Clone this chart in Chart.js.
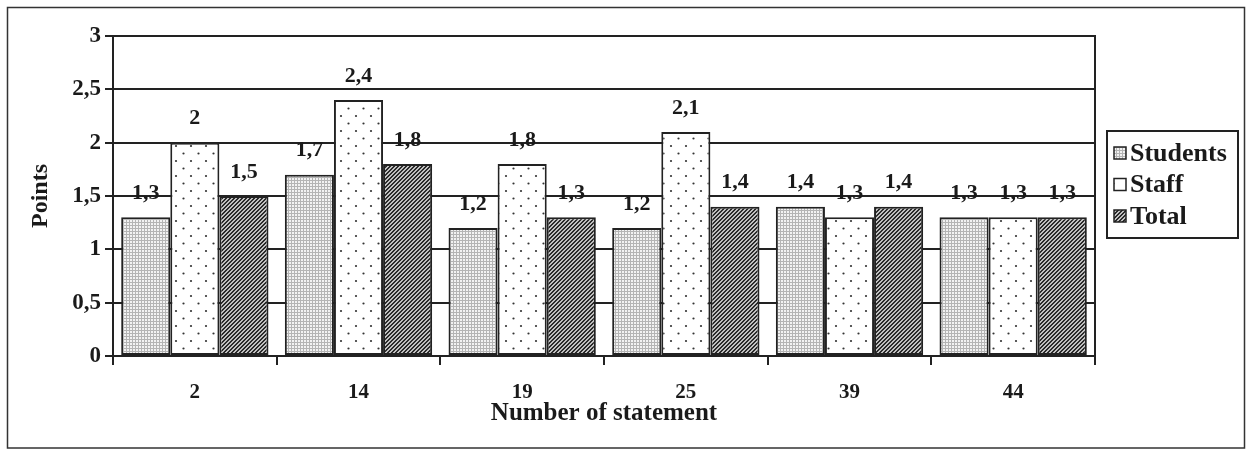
<!DOCTYPE html>
<html>
<head>
<meta charset="utf-8">
<script src="https://cdn.jsdelivr.net/npm/chart.js@4/dist/chart.umd.min.js"></script>
<style>
  html, body { margin: 0; padding: 0; background: #fff; }
  #wrap { width: 1252px; height: 450px; position: relative; }
</style>
</head>
<body>
<div id="wrap"><canvas id="chart" width="1252" height="450"></canvas></div>
<script>
// Statement numbers and mean points per group
const statements = ['2', '14', '19', '25', '39', '44'];
const students = [1.3, 1.7, 1.2, 1.2, 1.4, 1.3];
const staff    = [2.0, 2.4, 1.8, 2.1, 1.3, 1.3];
const total    = [1.5, 1.8, 1.3, 1.4, 1.4, 1.3];
const seriesNames = ['Students', 'Staff', 'Total'];
const yTicks = [0, 0.5, 1, 1.5, 2, 2.5, 3];

const SERIF = '"Liberation Serif", "Times New Roman", serif';
const fmt = v => String(v).replace('.', ',');

// Monochrome fill patterns for the three series
function makePattern(size, paint) {
  const c = document.createElement('canvas');
  c.width = size; c.height = size;
  const g = c.getContext('2d');
  paint(g, size);
  return document.getElementById('chart').getContext('2d').createPattern(c, 'repeat');
}
const gridFill = makePattern(3, (g, s) => {
  g.fillStyle = '#f2f2f2'; g.fillRect(0, 0, s, s);
  g.fillStyle = '#b4b4b4'; g.fillRect(0, 0, s, 1); g.fillRect(0, 0, 1, s);
});
const dotFill = makePattern(15, (g, s) => {
  g.fillStyle = '#ffffff'; g.fillRect(0, 0, s, s);
  g.fillStyle = '#333333';
  g.beginPath(); g.arc(3.5, 3.5, 1.1, 0, Math.PI * 2); g.fill();
  g.beginPath(); g.arc(11, 11, 1.1, 0, Math.PI * 2); g.fill();
});
const hatchFill = makePattern(4, (g, s) => {
  g.fillStyle = '#c0c0c0'; g.fillRect(0, 0, s, s);
  g.fillStyle = '#2a2a2a';
  for (let i = 0; i < s; i++) { g.fillRect(i, (s - 1 - i), 1, 1); g.fillRect(i, (s - i) % s, 1, 1); }
});
const fills = [gridFill, dotFill, hatchFill];

// Value labels above each bar, plot frame, outer frame and boxed legend
const decorations = {
  id: 'decorations',
  afterDatasetsDraw(chart) {
    const { ctx, chartArea: a } = chart;
    ctx.save();
    // right edge of the plot area
    ctx.strokeStyle = '#222'; ctx.lineWidth = 2;
    ctx.beginPath(); ctx.moveTo(a.right, a.top - 1); ctx.lineTo(a.right, a.bottom); ctx.stroke();

    ctx.fillStyle = '#1a1a1a';
    ctx.font = 'bold 22px ' + SERIF;
    ctx.textAlign = 'center'; ctx.textBaseline = 'middle';
    chart.data.datasets.forEach((ds, i) => {
      chart.getDatasetMeta(i).data.forEach((bar, j) => {
        ctx.fillText(fmt(ds.data[j]), bar.x, bar.y - 24);
      });
    });

    // outer frame
    ctx.strokeStyle = '#333'; ctx.lineWidth = 1.5;
    ctx.strokeRect(7.5, 7.5, 1237, 440.5);

    // legend
    const lx = 1107, ly = 131, lw = 131, lh = 107;
    ctx.strokeStyle = '#222'; ctx.lineWidth = 2;
    ctx.strokeRect(lx, ly, lw, lh);
    ctx.font = 'bold 26px ' + SERIF;
    ctx.textAlign = 'left';
    chart.data.datasets.forEach((ds, i) => {
      const cy = 153 + i * 31.5;
      ctx.fillStyle = ds.backgroundColor;
      ctx.fillRect(1114, cy - 6, 12, 12);
      ctx.strokeStyle = '#222'; ctx.lineWidth = 1.5;
      ctx.strokeRect(1114, cy - 6, 12, 12);
      ctx.fillStyle = '#1a1a1a';
      ctx.fillText(ds.label, 1130, cy + 1);
    });
    ctx.restore();
  }
};

new Chart(document.getElementById('chart'), {
  type: 'bar',
  data: {
    labels: statements,
    datasets: [students, staff, total].map((d, i) => ({
      label: seriesNames[i],
      data: d,
      backgroundColor: fills[i],
      borderColor: '#222',
      borderWidth: 2,
      borderSkipped: false,
      categoryPercentage: 0.9,
      barPercentage: 1.0
    }))
  },
  options: {
    responsive: false,
    animation: false,
    events: [],
    layout: { padding: { left: 26, right: 157, top: 36, bottom: 0 } },
    plugins: { legend: { display: false }, tooltip: { enabled: false } },
    scales: {
      x: {
        afterFit: s => { s.height = 94; },
        grid: { drawOnChartArea: false, drawTicks: true, tickLength: 9, color: '#222', lineWidth: 2, offset: true },
        border: { color: '#222', width: 2 },
        ticks: { color: '#1a1a1a', font: { family: SERIF, size: 21, weight: 'bold' }, padding: 15, maxRotation: 0 },
        title: { display: true, text: 'Number of statement', color: '#1a1a1a',
                 font: { family: SERIF, size: 25, weight: 'bold' }, padding: { top: 0, bottom: 21 } }
      },
      y: {
        min: 0, max: 3,
        afterFit: s => { s.width = 87; },
        afterBuildTicks: s => { s.ticks = yTicks.map(v => ({ value: v })); },
        grid: { color: '#222', lineWidth: 2, drawTicks: true, tickLength: 8 },
        border: { color: '#222', width: 2 },
        ticks: { color: '#1a1a1a', font: { family: SERIF, size: 23, weight: 'bold' }, padding: 4,
                 callback: v => fmt(v) },
        title: { display: true, text: 'Points', color: '#1a1a1a',
                 font: { family: SERIF, size: 24, weight: 'bold' }, padding: 0 }
      }
    }
  },
  plugins: [decorations]
});
</script>
</body>
</html>
